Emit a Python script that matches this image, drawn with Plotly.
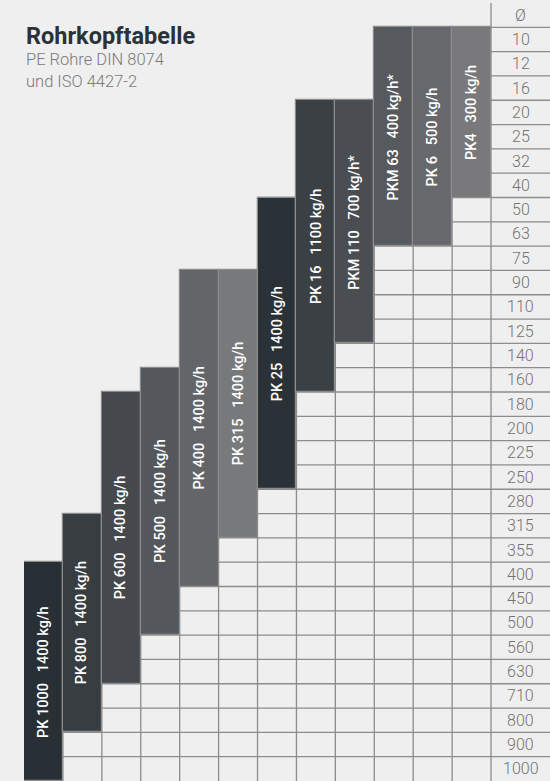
import plotly.graph_objects as go

# ---- data ----
diameters = [10, 12, 16, 20, 25, 32, 40, 50, 63, 75, 90, 110, 125, 140, 160,
             180, 200, 225, 250, 280, 315, 355, 400, 450, 500, 560, 630, 710,
             800, 900, 1000]
models = ["PK 1000", "PK 800", "PK 600", "PK 500", "PK 400", "PK 315",
          "PK 25", "PK 16", "PKM 110", "PKM 63", "PK 6", "PK4"]
outputs = ["1400 kg/h", "1400 kg/h", "1400 kg/h", "1400 kg/h", "1400 kg/h",
           "1400 kg/h", "1400 kg/h", "1100 kg/h", "700 kg/h*", "400 kg/h*",
           "500 kg/h", "300 kg/h"]
d_min = [400, 315, 180, 160, 90, 90, 50, 20, 20, 10, 10, 10]
d_max = [1000, 800, 630, 500, 400, 315, 250, 160, 125, 63, 63, 40]
bar_colors = ["#283035", "#373d41", "#45494d", "#54575b", "#636569", "#78797b",
              "#2b3237", "#3a4043", "#4a4e52", "#56595d", "#66686b", "#79797b"]

title = "Rohrkopftabelle"
subtitle1 = "PE Rohre DIN 8074"
subtitle2 = "und ISO 4427-2"
header = "Ø"

BG = "#efefef"
GRID = "#8c8c8c"
n_cols = len(models)
n_rows = len(diameters) + 1  # header row + data rows

W, H = 550, 781
ML, MT = 24, 3
col_px = 38.92
x_max = (W - ML) / col_px

# row index: header occupies [0,1], diameter i occupies [i+1, i+2]
tops = [diameters.index(v) + 1 for v in d_min]
bottoms = [diameters.index(v) + 2 for v in d_max]

fig = go.Figure()

fig.add_trace(go.Bar(
    x=[c + 0.5 for c in range(n_cols)],
    y=[b - t for t, b in zip(tops, bottoms)],
    base=tops,
    width=1,
    marker=dict(color=bar_colors, line=dict(color=GRID, width=1.2)),
    hoverinfo="skip",
    showlegend=False,
))

shapes = []
# horizontal grid lines
for k in range(1, n_rows):
    starts = [c for c in range(n_cols) if tops[c] <= k]
    x0 = min(starts) if starts else n_cols
    shapes.append(dict(type="line", xref="x", yref="y", x0=x0, x1=x_max,
                       y0=k, y1=k, layer="below",
                       line=dict(color=GRID, width=1.3)))
# vertical grid lines
for c in range(n_cols):
    y0 = tops[c] if c == 0 else min(tops[c - 1], tops[c])
    shapes.append(dict(type="line", xref="x", yref="y", x0=c, x1=c,
                       y0=y0, y1=n_rows, layer="below",
                       line=dict(color=GRID, width=1.3)))
shapes.append(dict(type="line", xref="x", yref="y", x0=n_cols, x1=n_cols,
                   y0=0, y1=n_rows, layer="below",
                   line=dict(color=GRID, width=1.3)))

annotations = []
# bar labels
for c in range(n_cols):
    annotations.append(dict(
        x=c + 0.5, y=(tops[c] + bottoms[c]) / 2, xref="x", yref="y",
        text=models[c] + "\u00a0\u00a0 " + outputs[c], textangle=-90,
        showarrow=False, xanchor="center", yanchor="middle",
        font=dict(family="Roboto", size=14.5, color="white", weight=500),
    ))
# diameter labels
label_x = n_cols + (x_max - n_cols) / 2
num_font = dict(family="Roboto", size=16, color="#727272", weight=300)
annotations.append(dict(x=label_x, y=0.5, xref="x", yref="y", text=header,
                        showarrow=False, font=num_font))
for i, d in enumerate(diameters):
    annotations.append(dict(x=label_x, y=i + 1.5, xref="x", yref="y",
                            text=str(d), showarrow=False, font=num_font))

# title texts
plot_h = H - MT
def py(px):
    return 1 - (px - MT) / plot_h

annotations.append(dict(x=0, y=py(35.5), xref="paper", yref="paper", text=title,
                        showarrow=False, xanchor="left", yanchor="middle",
                        font=dict(family="Roboto", size=23.5, color="#2b3237",
                                  weight="bold")))
annotations.append(dict(x=0, y=py(59.5), xref="paper", yref="paper", text=subtitle1,
                        showarrow=False, xanchor="left", yanchor="middle",
                        font=dict(family="Roboto", size=16.5, color="#7a7a7a",
                                  weight=300)))
annotations.append(dict(x=0, y=py(81.5), xref="paper", yref="paper", text=subtitle2,
                        showarrow=False, xanchor="left", yanchor="middle",
                        font=dict(family="Roboto", size=16.5, color="#7a7a7a",
                                  weight=300)))

fig.update_layout(
    width=W, height=H,
    margin=dict(l=ML, r=0, t=MT, b=0, pad=0),
    paper_bgcolor=BG, plot_bgcolor=BG,
    xaxis=dict(range=[0, x_max], visible=False, fixedrange=True),
    yaxis=dict(range=[n_rows, 0], visible=False, fixedrange=True),
    shapes=shapes, annotations=annotations,
    bargap=0, showlegend=False,
)

fig.write_html(
    "out.html",
    config={"displayModeBar": False},
    post_script="document.body.style.margin='0';document.body.style.overflow='hidden';",
)
